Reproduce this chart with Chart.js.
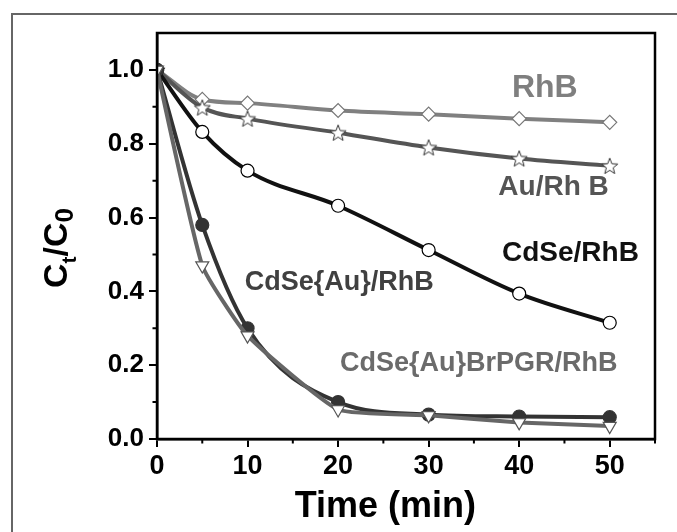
<!DOCTYPE html>
<html>
<head>
<meta charset="utf-8">
<script src="https://cdn.jsdelivr.net/npm/chart.js@4.4.1/dist/chart.umd.min.js"></script>
<style>
  html, body { margin: 0; padding: 0; background: #fff; }
  #wrap { width: 677px; height: 532px; position: relative; }
</style>
</head>
<body>
<div id="wrap"><canvas id="c" width="677" height="532"></canvas></div>
<script>
// ---- data ----
const times = [0, 5, 10, 20, 30, 40, 50];
const rhb = [1.0, 0.92, 0.91, 0.89, 0.88, 0.868, 0.858];
const auRhb = [1.0, 0.898, 0.868, 0.83, 0.79, 0.76, 0.74];
const cdseRhb = [1.0, 0.832, 0.727, 0.632, 0.512, 0.394, 0.315];
const cdseAuRhb = [1.0, 0.58, 0.30, 0.10, 0.066, 0.061, 0.059];
const cdseAuBrRhb = [1.0, 0.47, 0.28, 0.08, 0.064, 0.045, 0.035];
const xTickValues = [0, 10, 20, 30, 40, 50];
const yTickValues = [0.0, 0.2, 0.4, 0.6, 0.8, 1.0];
const seriesNames = ['RhB', 'Au/Rh B', 'CdSe/RhB', 'CdSe{Au}/RhB', 'CdSe{Au}BrPGR/RhB'];

const FONT = '"Liberation Sans", Arial, Helvetica, sans-serif';

function pts(arr) { return times.map((t, i) => ({ x: t, y: arr[i] })); }

// five-point star marker
function starImage(stroke) {
  const s = 20, c = document.createElement('canvas');
  c.width = s; c.height = s;
  const g = c.getContext('2d');
  const R = 8.5, r = 3.6, cx = s / 2, cy = s / 2 + 0.8;
  g.beginPath();
  for (let i = 0; i < 10; i++) {
    const a = -Math.PI / 2 + i * Math.PI / 5;
    const rad = i % 2 === 0 ? R : r;
    const px = cx + rad * Math.cos(a), py = cy + rad * Math.sin(a);
    if (i === 0) g.moveTo(px, py); else g.lineTo(px, py);
  }
  g.closePath();
  g.fillStyle = '#fff'; g.fill();
  g.lineWidth = 1; g.strokeStyle = stroke; g.stroke();
  return c;
}

const annotations = [
  { text: seriesNames[0], x: 39.2, y: 0.9275, size: 32, color: '#7f7f7f' },
  { text: seriesNames[1], x: 37.7, y: 0.661, size: 28, color: '#555555' },
  { text: seriesNames[2], x: 38.1, y: 0.482, size: 28, color: '#111111' },
  { text: seriesNames[3], x: 9.7, y: 0.403, size: 27, color: '#404040' },
  { text: seriesNames[4], x: 20.2, y: 0.183, size: 27, color: '#6b6b6b' }
];

const drawPlugin = {
  id: 'custom',
  beforeDraw(chart) {
    const ctx = chart.ctx;
    ctx.save();
    ctx.fillStyle = '#fff';
    ctx.fillRect(0, 0, chart.width, chart.height);
    ctx.strokeStyle = '#666';
    ctx.lineWidth = 2;
    ctx.beginPath();
    ctx.moveTo(12, chart.height + 2);
    ctx.lineTo(12, 14);
    ctx.lineTo(chart.width + 2, 14);
    ctx.stroke();
    ctx.restore();
  },
  afterDraw(chart) {
    const ctx = chart.ctx, a = chart.chartArea;
    const xs = chart.scales.x, ys = chart.scales.y;
    ctx.save();
    // box
    ctx.strokeStyle = '#000';
    ctx.lineWidth = 2.5;
    ctx.strokeRect(a.left, a.top, a.right - a.left, a.bottom - a.top);
    // minor ticks
    ctx.lineWidth = 2;
    ctx.beginPath();
    [5, 15, 25, 35, 45, 55].forEach(v => {
      const px = xs.getPixelForValue(v);
      ctx.moveTo(px, a.bottom); ctx.lineTo(px, a.bottom + 4.5);
    });
    [0.1, 0.3, 0.5, 0.7, 0.9].forEach(v => {
      const py = ys.getPixelForValue(v);
      ctx.moveTo(a.left, py); ctx.lineTo(a.left - 4.5, py);
    });
    ctx.stroke();
    // annotations
    ctx.textBaseline = 'alphabetic';
    ctx.textAlign = 'left';
    annotations.forEach(t => {
      ctx.font = 'bold ' + t.size + 'px ' + FONT;
      ctx.fillStyle = t.color;
      ctx.fillText(t.text, xs.getPixelForValue(t.x), ys.getPixelForValue(t.y));
    });
    // x title
    ctx.fillStyle = '#000';
    ctx.textAlign = 'center';
    ctx.font = 'bold 36px ' + FONT;
    ctx.fillText('Time (min)', xs.getPixelForValue(25) + 2, 517);
    // y title  C_t / C_0
    ctx.translate(67, 288);
    ctx.rotate(-Math.PI / 2);
    ctx.textAlign = 'left';
    let x = 0;
    const part = (s, size, dy) => {
      ctx.font = 'bold ' + size + 'px ' + FONT;
      ctx.fillText(s, x, dy);
      x += ctx.measureText(s).width;
    };
    part('C', 34, 0);
    part('t', 21, 9);
    part('/', 34, 0);
    part('C', 34, 0);
    part('0', 26, 6);
    ctx.restore();
  }
};

const common = { borderWidth: 4, pointBorderWidth: 1.2, cubicInterpolationMode: 'monotone', fill: false };

new Chart(document.getElementById('c'), {
  type: 'line',
  data: {
    datasets: [
      Object.assign({}, common, {
        label: seriesNames[4], data: pts(cdseAuBrRhb), borderColor: '#666666', backgroundColor: '#fff',
        pointBackgroundColor: '#fff', pointBorderColor: '#555', pointStyle: 'triangle', rotation: 180, pointRadius: 7.5,
        tension: 0.15, cubicInterpolationMode: 'default'
      }),
      Object.assign({}, common, {
        label: seriesNames[3], data: pts(cdseAuRhb), borderColor: '#333333', backgroundColor: '#333',
        pointBackgroundColor: '#333', pointBorderColor: '#333', pointStyle: 'circle', pointRadius: 6.5
      }),
      Object.assign({}, common, {
        label: seriesNames[2], data: pts(cdseRhb), borderColor: '#111111', backgroundColor: '#fff',
        pointBackgroundColor: '#fff', pointBorderColor: '#000', pointStyle: 'circle', pointRadius: 6.5
      }),
      Object.assign({}, common, {
        label: seriesNames[1], data: pts(auRhb), borderColor: '#555555', backgroundColor: '#fff',
        pointStyle: starImage('#333'), pointRadius: 8
      }),
      Object.assign({}, common, {
        label: seriesNames[0], data: pts(rhb), borderColor: '#808080', backgroundColor: '#fff',
        pointBackgroundColor: '#fff', pointBorderColor: '#777', pointStyle: 'rectRot', pointRadius: 7
      })
    ]
  },
  options: {
    responsive: false,
    animation: false,
    events: [],
    layout: { padding: { left: 0, top: 33, right: 22, bottom: 0 } },
    plugins: { legend: { display: false }, tooltip: { enabled: false } },
    scales: {
      x: {
        type: 'linear', min: 0, max: 55,
        afterFit(s) { s.height = 93; },
        afterBuildTicks(s) { s.ticks = xTickValues.map(v => ({ value: v })); },
        ticks: { stepSize: 10, includeBounds: false, color: '#000', padding: 3,
                 font: { family: FONT, weight: 'bold', size: 27 }, maxRotation: 0 },
        grid: { drawOnChartArea: false, drawTicks: true, tickLength: 8, color: '#000', lineWidth: 2 },
        border: { display: true, color: '#000', width: 2.5 }
      },
      y: {
        type: 'linear', min: 0, max: 1.1,
        afterFit(s) { s.width = 157; },
        afterBuildTicks(s) { s.ticks = yTickValues.map(v => ({ value: v })); },
        ticks: { stepSize: 0.2, includeBounds: false, color: '#000', padding: 5,
                 font: { family: FONT, weight: 'bold', size: 26 },
                 callback: v => Number(v).toFixed(1) },
        grid: { drawOnChartArea: false, drawTicks: true, tickLength: 8, color: '#000', lineWidth: 2 },
        border: { display: true, color: '#000', width: 2.5 }
      }
    }
  },
  plugins: [drawPlugin]
});
</script>
</body>
</html>
